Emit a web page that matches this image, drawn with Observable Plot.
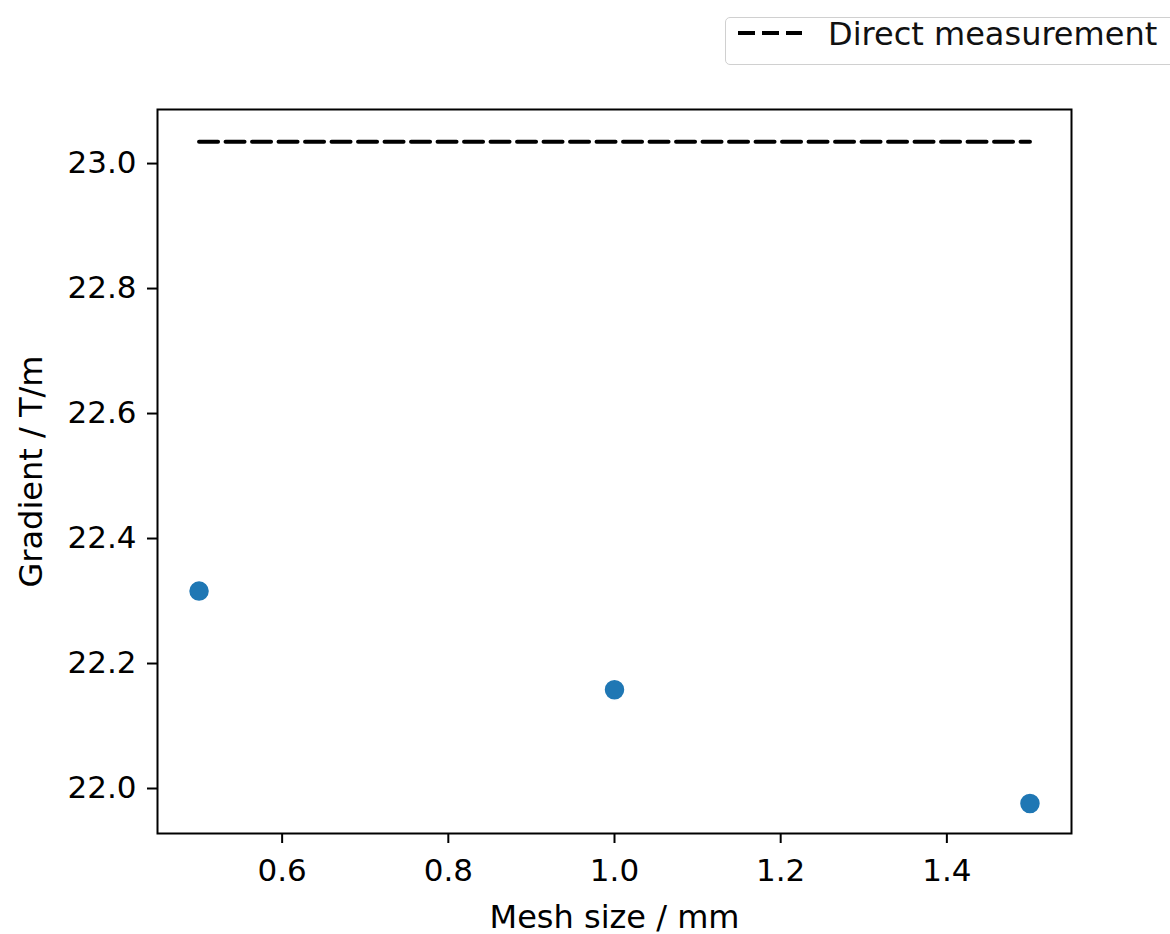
<!DOCTYPE html>
<html>
<head>
<meta charset="utf-8">
<script src="https://cdn.jsdelivr.net/npm/d3@7"></script>
<script src="https://cdn.jsdelivr.net/npm/@observablehq/plot@0.6"></script>
<style>
  html, body { margin: 0; padding: 0; background: white; }
  #wrap { position: relative; width: 1170px; height: 934px; font-family: "DejaVu Sans", sans-serif; }
  #legend { position: absolute; left: 725px; top: 17px; width: 460px; height: 48px; border: 1.5px solid #d0d0d0; border-radius: 5px; background: white; box-sizing: border-box; }
  #legend svg { position: absolute; left: 12px; top: 11px; }
  #legend span { position: absolute; left: 102px; top: -3px; font-size: 32px; line-height: normal; color: #111; white-space: nowrap; }
</style>
</head>
<body>
<div id="wrap">
  <div id="chart"></div>
  <div id="legend"><svg width="64" height="12"><line x1="0" y1="4" x2="64" y2="4" stroke="black" stroke-width="4" stroke-dasharray="17,7"></line></svg><span>Direct measurement</span></div>
</div>
<script>
const meshSizes = [0.5, 1.0, 1.5];
const gradients = [22.316, 22.158, 21.976];
const directMeasurement = 23.035;
const xTicks = [0.6, 0.8, 1.0, 1.2, 1.4];
const yTicks = [22.0, 22.2, 22.4, 22.6, 22.8, 23.0];
const xLabel = "Mesh size / mm";
const yLabel = "Gradient / T/m";

const points = meshSizes.map((m, i) => ({m, g: gradients[i]}));
const direct = meshSizes.map(m => ({m, g: directMeasurement}));

const chart = Plot.plot({
  width: 1170,
  height: 934,
  marginLeft: 157,
  marginRight: 99,
  marginTop: 109,
  marginBottom: 101,
  style: {fontFamily: "DejaVu Sans, sans-serif", fontSize: "31px", color: "black", background: "white"},
  x: {domain: [0.45, 1.55]},
  y: {domain: [21.928, 23.0865]},
  marks: [
    Plot.axisX(xTicks, {tickSize: 10, tickPadding: 15, tickFormat: d3.format(".1f"), label: null, strokeWidth: 2}),
    Plot.axisY(yTicks, {tickSize: 10, tickPadding: 11, tickFormat: d3.format(".1f"), label: null, strokeWidth: 2}),
    Plot.frame({stroke: "black", strokeWidth: 2}),
    Plot.line(direct, {x: "m", y: "g", stroke: "black", strokeWidth: 4, strokeDasharray: "19,7.5"}),
    Plot.dot(points, {x: "m", y: "g", r: 10.5, fill: "#1f77b4", stroke: "white", strokeWidth: 1.5}),
    Plot.text([xLabel], {text: d => d, frameAnchor: "bottom", dy: 94, fontSize: 32, fill: "black"}),
    Plot.text([yLabel], {text: d => d, frameAnchor: "left", textAnchor: "middle", dx: -126, rotate: -90, fontSize: 32, fill: "black"})
  ]
});
document.getElementById("chart").appendChild(chart);
</script>
</body>
</html>
